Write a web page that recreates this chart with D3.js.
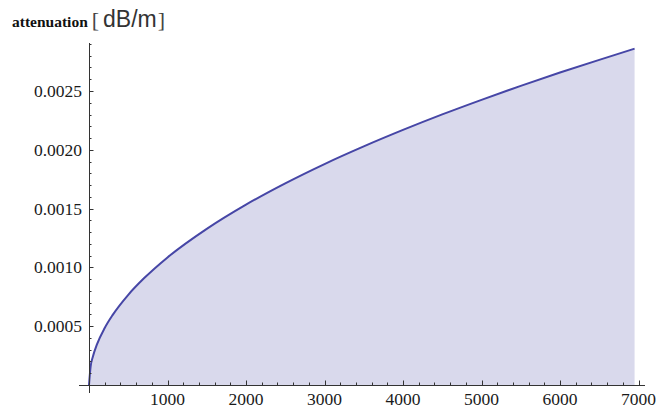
<!DOCTYPE html>
<html>
<head>
<meta charset="utf-8">
<script src="https://cdn.jsdelivr.net/npm/d3@7"></script>
<style>
  html, body { margin: 0; padding: 0; background: #fff; }
  svg { display: block; }
  .serif { font-family: "Liberation Serif", "Times New Roman", "DejaVu Serif", serif; }
  .sans { font-family: "Liberation Sans", Arial, sans-serif; }
</style>
</head>
<body>
<svg id="chart" width="660" height="408"></svg>
<script>
// values (frequency, attenuation in dB/m)
const frequency = [0, 20, 50, 100, 200, 300, 500, 700, 1000, 1500, 2000, 2500,
  3000, 3500, 4000, 4500, 5000, 5500, 6000, 6500, 6950];
const attenuation = [0, 0.000153, 0.000242, 0.000343, 0.000485, 0.000594, 0.000767,
  0.000907, 0.001085, 0.001328, 0.001534, 0.001715, 0.001879, 0.002029, 0.002169,
  0.002301, 0.002425, 0.002544, 0.002657, 0.002765, 0.002860];
const xTicks = [1000, 2000, 3000, 4000, 5000, 6000, 7000];
const yTicks = [0.0005, 0.0010, 0.0015, 0.0020, 0.0025];

const points = frequency.map((f, i) => ({ f, a: attenuation[i] }));

const svg = d3.select('#chart');
const originX = 89;
const originY = 385;

const x = d3.scaleLinear().domain([0, 1000]).range([originX, originX + 78.5]);
const y = d3.scaleLinear().domain([0, 0.0005]).range([originY, originY - 58.8]);

// shaded area under the curve
svg.append('path')
  .datum(points)
  .attr('fill', '#d9d9ec')
  .attr('d', d3.area()
    .x(d => x(d.f))
    .y0(originY)
    .y1(d => y(d.a))
    .curve(d3.curveMonotoneX));

svg.append('path')
  .datum(points)
  .attr('fill', 'none')
  .attr('stroke', '#4646a6')
  .attr('stroke-width', 2)
  .attr('d', d3.line()
    .x(d => x(d.f))
    .y(d => y(d.a))
    .curve(d3.curveMonotoneX));

const axisColor = '#333';

// x axis, ticks inside
const xAxis = svg.append('g');
xAxis.append('line')
  .attr('x1', 79).attr('x2', 645)
  .attr('y1', originY + 0.5).attr('y2', originY + 0.5)
  .attr('stroke', axisColor);

const xMinor = d3.range(200, 7001, 200);
xAxis.selectAll('line.tick')
  .data(xMinor)
  .enter()
  .append('line')
  .attr('class', 'tick')
  .attr('x1', d => Math.round(x(d)) + 0.5)
  .attr('x2', d => Math.round(x(d)) + 0.5)
  .attr('y1', originY)
  .attr('y2', d => originY - (d % 1000 === 0 ? 4.5 : 2.5))
  .attr('stroke', axisColor);

xAxis.selectAll('text')
  .data(xTicks)
  .enter()
  .append('text')
  .attr('class', 'serif')
  .attr('x', d => x(d))
  .attr('y', 405)
  .attr('text-anchor', 'middle')
  .attr('font-size', 17.5)
  .attr('fill', '#1a1a1a')
  .text(d => d);

// y axis, ticks inside
const yAxis = svg.append('g');
yAxis.append('line')
  .attr('x1', originX + 0.5).attr('x2', originX + 0.5)
  .attr('y1', 43).attr('y2', 393)
  .attr('stroke', axisColor);

const yMinor = d3.range(1, 30).map(i => i * 0.0001);
yAxis.selectAll('line.tick')
  .data(yMinor)
  .enter()
  .append('line')
  .attr('class', 'tick')
  .attr('x1', originX)
  .attr('x2', (d, i) => originX + ((i + 1) % 5 === 0 ? 4.5 : 2.5))
  .attr('y1', d => Math.round(y(d)) + 0.5)
  .attr('y2', d => Math.round(y(d)) + 0.5)
  .attr('stroke', axisColor);

yAxis.selectAll('text')
  .data(yTicks)
  .enter()
  .append('text')
  .attr('class', 'serif')
  .attr('x', 82)
  .attr('y', d => y(d) + 6)
  .attr('text-anchor', 'end')
  .attr('font-size', 17.5)
  .attr('fill', '#1a1a1a')
  .text(d => d.toFixed(4));

// axis title
const title = svg.append('text')
  .attr('x', 12)
  .attr('y', 27)
  .attr('fill', '#111');
title.append('tspan')
  .attr('class', 'serif')
  .attr('font-size', 15.5)
  .attr('font-weight', 'bold')
  .text('attenuation ');
title.append('tspan')
  .attr('class', 'serif')
  .attr('font-size', 22)
  .attr('fill', '#444')
  .text('[');
title.append('tspan')
  .attr('class', 'sans')
  .attr('dx', 4)
  .attr('font-size', 23)
  .attr('fill', '#333')
  .text('dB/m');
title.append('tspan')
  .attr('class', 'serif')
  .attr('dx', 1)
  .attr('font-size', 22)
  .attr('fill', '#444')
  .text(']');
</script>
</body>
</html>
